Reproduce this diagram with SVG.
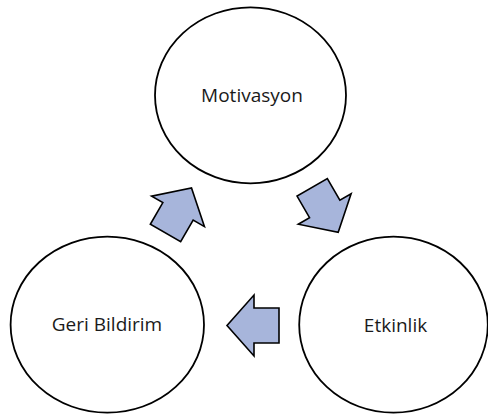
<svg xmlns="http://www.w3.org/2000/svg" width="488" height="414" viewBox="0 0 488 414">
  <style>
    .node ellipse { fill: #ffffff; stroke: #000000; stroke-width: 1.8; }
    .node text { font-family: "Open Sans", "Liberation Sans", sans-serif; font-size: 19px; fill: #1a1a1a; text-anchor: middle; }
    .arrow { fill: #A7B5DB; stroke: #000000; stroke-width: 1.6; stroke-linejoin: miter; }
  </style>
  <defs>
    <polygon id="blockArrow" points="-26,-17.5 -1,-17.5 -1,-30.5 26,0 -1,30.5 -1,17.5 -26,17.5"/>
  </defs>
  <rect width="488" height="414" fill="#ffffff"/>
  <g id="connectors">
    <use href="#blockArrow" class="arrow" transform="translate(325.2,209.8) rotate(60)"/>
    <use href="#blockArrow" class="arrow" transform="translate(253,325.5) rotate(180)"/>
    <use href="#blockArrow" class="arrow" transform="translate(178.5,210.5) rotate(-60)"/>
  </g>
  <g id="motivasyon" class="node">
    <ellipse cx="250.5" cy="95.3" rx="95.5" ry="88"/>
    <text x="252" y="102">Motivasyon</text>
  </g>
  <g id="etkinlik" class="node">
    <ellipse cx="393.5" cy="324.7" rx="94.3" ry="88"/>
    <text x="395.5" y="331.5">Etkinlik</text>
  </g>
  <g id="geri-bildirim" class="node">
    <ellipse cx="107.3" cy="324.7" rx="96.7" ry="88"/>
    <text x="107" y="331">Geri Bildirim</text>
  </g>
</svg>
